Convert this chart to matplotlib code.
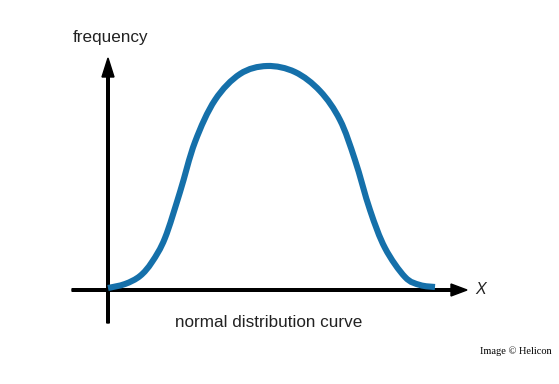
import matplotlib.pyplot as plt
from matplotlib.path import Path
from matplotlib.patches import PathPatch

# titik kurva (posisi x dan tinggi frekuensi di atas sumbu)
kurva_x = [108, 125, 140, 152, 165, 180, 195, 215, 240, 267, 295, 320, 340,
           355, 370, 385, 405, 420, 435]
kurva_y = [2, 6, 14, 28, 52, 98, 148, 190, 216, 224, 218, 199, 170,
           130, 80, 42, 13, 5, 3]

judul_y = "frequency"
judul_x = "normal distribution curve"
label_x = "X"
kredit = "Image © Helicon"


def jalur_halus(xs, ys):
    """Membuat path Bezier yang melewati semua titik (Catmull-Rom)"""
    pts = list(zip(xs, ys))
    verts = [pts[0]]
    codes = [Path.MOVETO]
    for i in range(len(pts) - 1):
        p0 = pts[i - 1] if i > 0 else pts[i]
        p1 = pts[i]
        p2 = pts[i + 1]
        p3 = pts[i + 2] if i + 2 < len(pts) else pts[i + 1]
        c1 = (p1[0] + (p2[0] - p0[0]) / 6, p1[1] + (p2[1] - p0[1]) / 6)
        c2 = (p2[0] - (p3[0] - p1[0]) / 6, p2[1] - (p3[1] - p1[1]) / 6)
        verts += [c1, c2, p2]
        codes += [Path.CURVE4] * 3
    return Path(verts, codes)


fig = plt.figure(figsize=(5.59, 3.84), dpi=100)
ax = fig.add_axes([0, 0, 1, 1])
ax.set_xlim(0, 559)
ax.set_ylim(-94, 290)
ax.axis('off')

# sumbu dengan panah
ax.arrow(108, -33, 0, 265, width=2.6, head_width=12, head_length=19,
         length_includes_head=True, color='black', zorder=1)
ax.arrow(72, 0, 395, 0, width=2.6, head_width=12, head_length=16,
         length_includes_head=True, color='black', zorder=1)

# kurva distribusi normal
ax.add_patch(PathPatch(jalur_halus(kurva_x, kurva_y), facecolor='none',
                       edgecolor='#1570aa', lw=4.4, capstyle='butt',
                       joinstyle='round', zorder=2))

ax.text(111, 248, judul_y, fontsize=12.3, family='Liberation Sans',
        ha='center', va='baseline', color='#222222')
ax.text(269, -37, judul_x, fontsize=12.3, family='Liberation Sans',
        ha='center', va='baseline', color='#222222')
ax.text(481, 1, label_x, fontsize=11.5, family='Liberation Sans', style='italic',
        ha='center', va='center', color='#222222')
ax.text(516, -61, kredit, fontsize=7.5, family='Liberation Serif',
        ha='center', va='center', color='black')

fig.savefig("out.png", dpi=100)
